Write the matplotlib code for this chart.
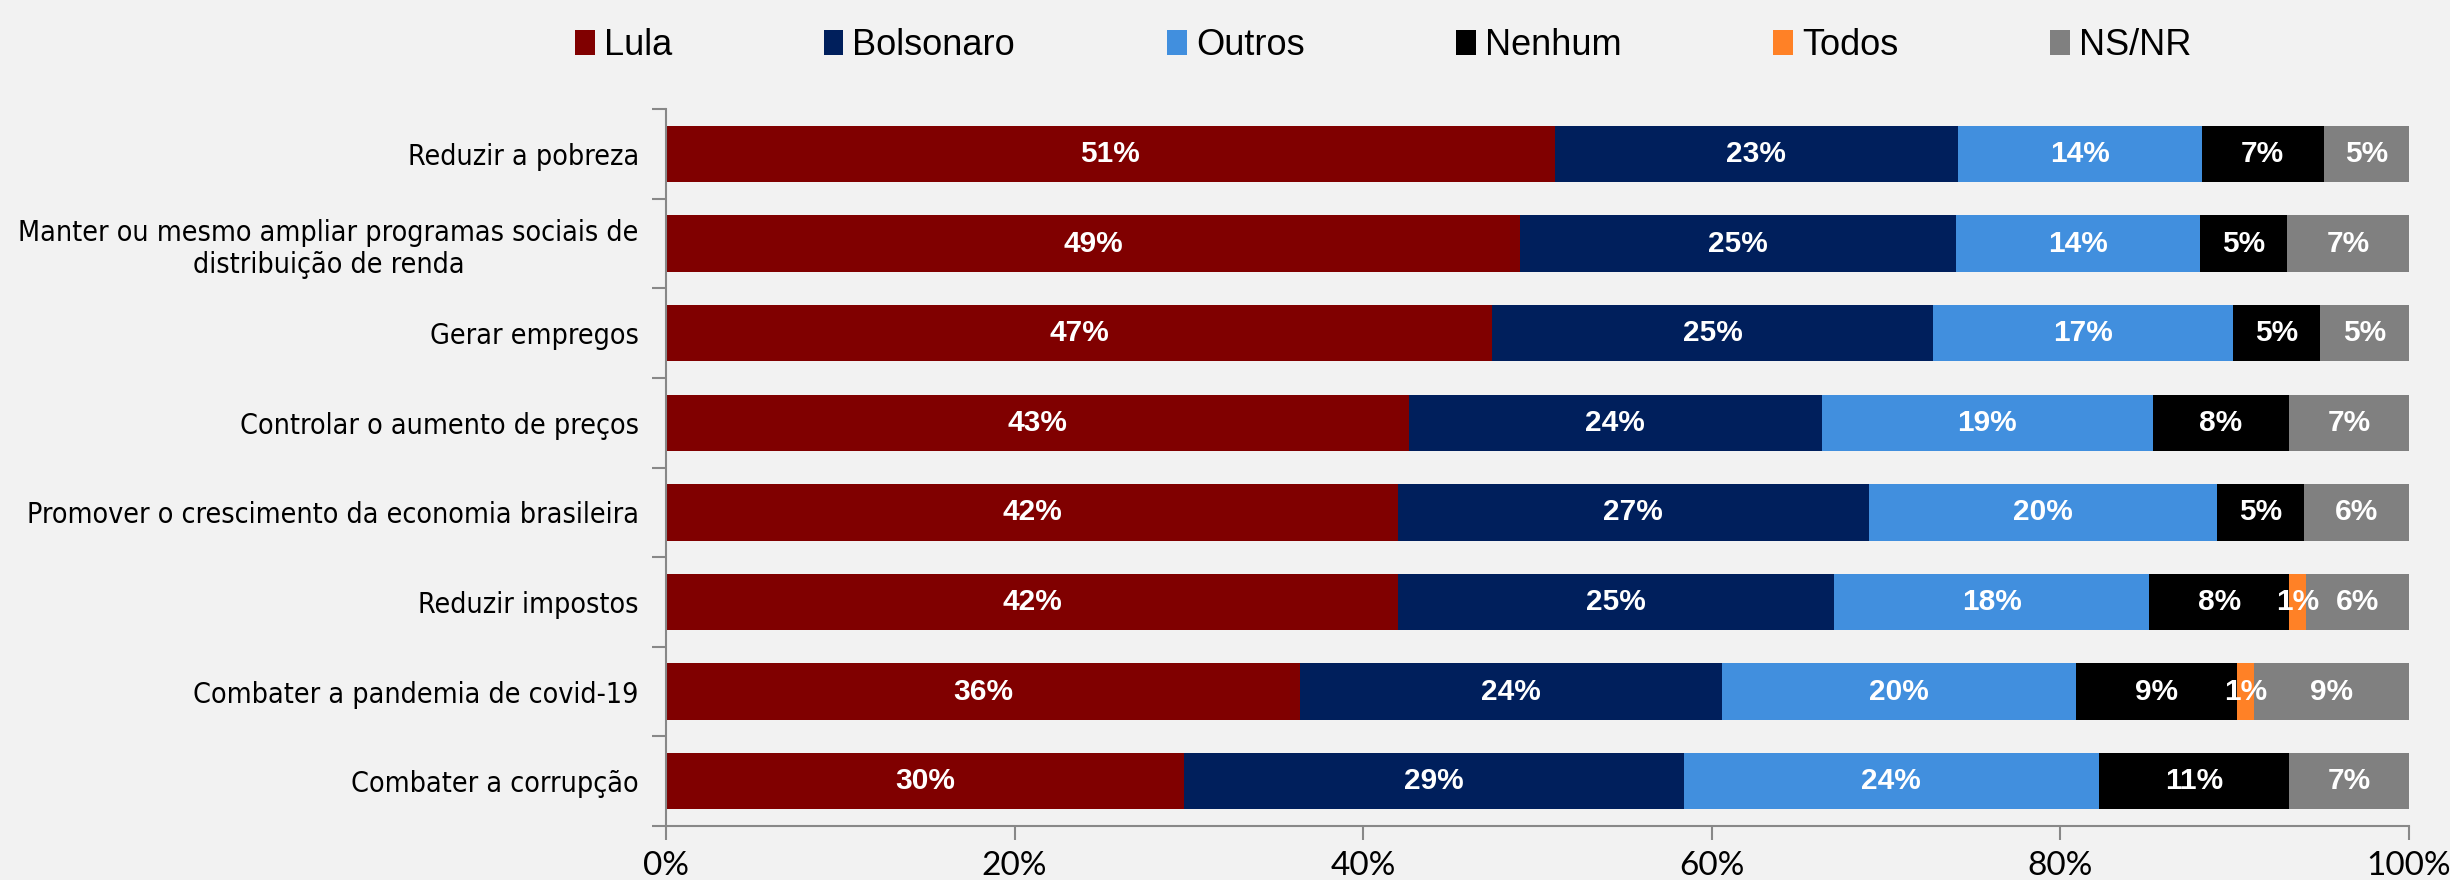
import numpy as np
import matplotlib
matplotlib.use("Agg")
import matplotlib.pyplot as plt
from matplotlib.patches import Patch

categories = [
    "Reduzir a pobreza",
    "Manter ou mesmo ampliar programas sociais de\ndistribuição de renda",
    "Gerar empregos",
    "Controlar o aumento de preços",
    "Promover o crescimento da economia brasileira",
    "Reduzir impostos",
    "Combater a pandemia de covid-19",
    "Combater a corrupção",
]
series_names = ["Lula", "Bolsonaro", "Outros", "Nenhum", "Todos", "NS/NR"]
lula = [51.0, 49.0, 47.4, 42.6, 42.0, 42.0, 36.4, 29.7]
bolsonaro = [23.1, 25.0, 25.3, 23.7, 27.0, 25.0, 24.2, 28.7]
outros = [14.0, 14.0, 17.2, 19.0, 20.0, 18.1, 20.3, 23.8]
nenhum = [7.0, 5.0, 5.0, 7.8, 5.0, 8.0, 9.2, 10.9]
todos = [0, 0, 0, 0, 0, 1.0, 1.0, 0]
nsnr = [4.9, 7.0, 5.1, 6.9, 6.0, 5.9, 8.9, 6.9]
x_ticks = [0, 20, 40, 60, 80, 100]
x_tick_labels = ["0%", "20%", "40%", "60%", "80%", "100%"]

colors = ["#800000", "#001F5C", "#418FDE", "#000000", "#FF8126", "#808080"]
bg = "#F2F2F2"

fig = plt.figure(figsize=(24.5, 8.8), dpi=100, facecolor=bg)
ax = fig.add_axes([0.2718, 0.0614, 0.9833 - 0.2718, 0.876 - 0.0614], facecolor=bg)

series = [lula, bolsonaro, outros, nenhum, todos, nsnr]
y = np.arange(len(categories))
left = np.zeros(len(categories))
for vals, col in zip(series, colors):
    vals = np.array(vals, dtype=float)
    ax.barh(y, vals, left=left, height=0.63, color=col, edgecolor="none")
    for yi, v, l in zip(y, vals, left):
        if v > 0:
            ax.text(l + v / 2, yi, f"{v:.0f}%", ha="center", va="center",
                    color="white", fontsize=21.5, fontweight="bold",
                    family=["Liberation Sans", "DejaVu Sans"])
    left += vals

ax.set_xlim(0, 100)
ax.set_ylim(len(categories) - 0.5, -0.5)

# x axis
ax.set_xticks(x_ticks)
ax.set_xticklabels(x_tick_labels, fontsize=24, family=["Lato", "DejaVu Sans"])
ax.tick_params(axis="x", direction="out", length=10, width=1.5, color="#888888", pad=8)

# y axis: boundary ticks + centered labels
ax.set_yticks(np.arange(len(categories) + 1) - 0.5)
ax.set_yticklabels([])
ax.set_yticks(y, minor=True)
ax.set_yticklabels(categories, minor=True, fontsize=20.5,
                   family=["DejaVu Sans"], fontstretch="condensed", ha="right")
ax.tick_params(axis="y", which="major", direction="out", length=10, width=1.5, color="#888888")
ax.tick_params(axis="y", which="minor", length=0, pad=19.5)
for lab in ax.get_yticklabels(minor=True):
    lab.set_multialignment("center")

for s in ["top", "right"]:
    ax.spines[s].set_visible(False)
for s in ["left", "bottom"]:
    ax.spines[s].set_color("#888888")
    ax.spines[s].set_linewidth(1.5)

handles = [Patch(facecolor=c, edgecolor="none") for c in colors]
leg = fig.legend(handles, series_names, loc="upper center", bbox_to_anchor=(0.5645, 1.005),
                 ncol=6, frameon=False, handlelength=0.55, handleheight=0.7,
                 handletextpad=0.25, columnspacing=4.2,
                 prop={"family": ["Liberation Sans Narrow", "Liberation Sans"], "size": 26})

fig.savefig("out.png", dpi=100, facecolor=bg)
